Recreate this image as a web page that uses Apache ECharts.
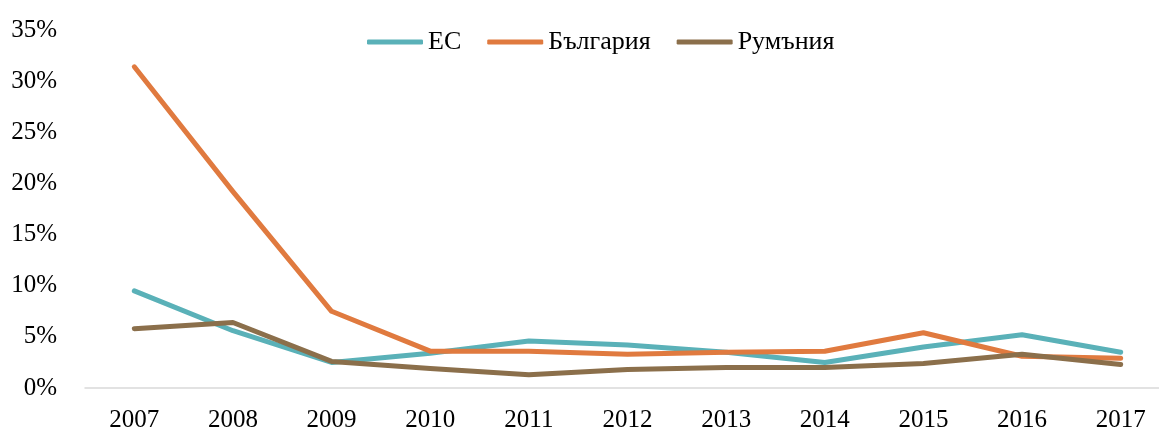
<!DOCTYPE html>
<html>
<head>
<meta charset="utf-8">
<script src="https://cdn.jsdelivr.net/npm/echarts@6/dist/echarts.min.js"></script>
<style>
  html, body { margin: 0; padding: 0; background: #fff; }
  #chart { width: 1159px; height: 433px; }
</style>
</head>
<body>
<div id="chart"></div>
<script>
// години
let years = ['2007', '2008', '2009', '2010', '2011', '2012', '2013', '2014', '2015', '2016', '2017']
let seriesNames = ['ЕС', 'България', 'Румъния']
// стойности в %
let euValues = [9.5, 5.6, 2.5, 3.4, 4.6, 4.2, 3.5, 2.5, 4.0, 5.2, 3.5]
let bgValues = [31.4, 19.2, 7.5, 3.6, 3.6, 3.3, 3.5, 3.6, 5.4, 3.1, 2.9]
let roValues = [5.8, 6.4, 2.6, 1.9, 1.3, 1.8, 2.0, 2.0, 2.4, 3.3, 2.3]
let colors = ['#5AB1B8', '#E07A3F', '#8B6F4B']

let font = "'Liberation Serif', 'Times New Roman', serif"
let chart = echarts.init(document.getElementById('chart'))

function makeLine (name, data, color) {
  return {
    name: name,
    type: 'line',
    data: data,
    symbol: 'none',
    smooth: false,
    lineStyle: { width: 5, color: color, cap: 'round', join: 'round' },
    itemStyle: { color: color }
  }
}

let option = {
  animation: false,
  grid: { left: 85, width: 1085, top: 30, bottom: 45, outerBoundsMode: 'none', containLabel: false },
  legend: {
    top: 24,
    left: 362,
    itemWidth: 56,
    itemHeight: 5,
    itemGap: 26,
    icon: 'roundRect',
    textStyle: { fontFamily: font, fontSize: 26, color: '#000', padding: [0, 0, 0, 0] },
    data: seriesNames
  },
  xAxis: {
    type: 'category',
    data: years,
    boundaryGap: true,
    axisLine: { lineStyle: { color: '#d9d9d9', width: 1.5 } },
    axisTick: { show: false },
    axisLabel: { fontFamily: font, fontSize: 25, color: '#000', margin: 20 }
  },
  yAxis: {
    type: 'value',
    min: 0,
    max: 35,
    interval: 5,
    axisLine: { show: false },
    axisTick: { show: false },
    splitLine: { show: false },
    axisLabel: { fontFamily: font, fontSize: 25, color: '#000', margin: 28, formatter: '{value}%' }
  },
  series: [
    makeLine(seriesNames[0], euValues, colors[0]),
    makeLine(seriesNames[1], bgValues, colors[1]),
    makeLine(seriesNames[2], roValues, colors[2])
  ]
}
chart.setOption(option)
</script>
</body>
</html>
